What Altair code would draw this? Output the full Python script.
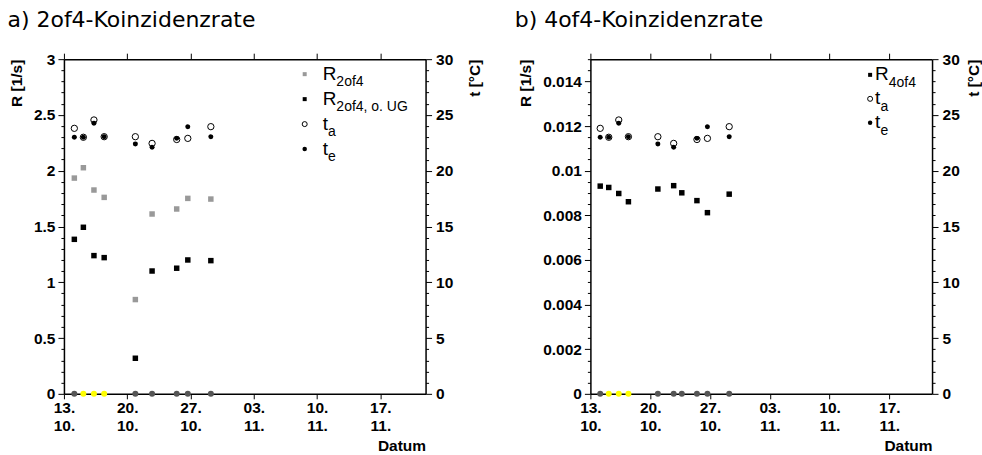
import altair as alt
import pandas as pd

# ---------------------------------------------------------------------------
# Measurement runs (UTC time stamps)
# ---------------------------------------------------------------------------
times_4of4 = [
    "2008-10-14T03:36:00Z", "2008-10-15T03:36:00Z", "2008-10-16T07:40:00Z",
    "2008-10-17T10:50:00Z", "2008-10-20T21:35:00Z", "2008-10-22T18:00:00Z",
    "2008-10-23T16:50:00Z", "2008-10-25T11:20:00Z", "2008-10-26T16:50:00Z",
    "2008-10-29T06:00:00Z",
]
times_2of4 = [
    "2008-10-14T03:36:00Z", "2008-10-15T03:36:00Z", "2008-10-16T07:40:00Z",
    "2008-10-17T10:50:00Z", "2008-10-20T21:35:00Z", "2008-10-22T18:00:00Z",
    "2008-10-25T11:20:00Z", "2008-10-26T16:50:00Z", "2008-10-29T06:00:00Z",
]

# run status marker drawn on the time axis (1 = flagged run)
flag_2of4 = [0, 1, 1, 1, 0, 0, 0, 0, 0]
flag_4of4 = [0, 1, 1, 1, 0, 0, 0, 0, 0, 0]

# coincidence rates [1/s]
rate_2of4 = [1.934, 2.027, 1.827, 1.761, 0.845, 1.612, 1.657, 1.752, 1.746]
rate_2of4_noug = [1.385, 1.493, 1.239, 1.221, 0.319, 1.101, 1.126, 1.200, 1.194]
rate_4of4 = [0.00931, 0.00925, 0.00898, 0.00861, 0.00918,
             0.00933, 0.00901, 0.00866, 0.00812, 0.00895]

# temperatures at start (t_a) and end (t_e) of each run [°C]
temp_a = [23.8, 23.0, 24.55, 23.05, 23.05, 22.45, 22.8, 22.9, 23.95]
temp_e = [23.0, 23.0, 24.25, 23.05, 22.4, 22.1, 22.9, 23.95, 23.05]

# date ticks (day of month, month)
tick_days = [(13, 10), (20, 10), (27, 10), (3, 11), (10, 11), (17, 11)]

# ---------------------------------------------------------------------------
FONT = "Liberation Sans"
TITLE_FONT = "DejaVu Sans"

df_2of4 = pd.DataFrame({"time": times_2of4, "R": rate_2of4, "R_noug": rate_2of4_noug,
                        "flag": flag_2of4, "base": [0] * len(times_2of4)})
df_4of4 = pd.DataFrame({"time": times_4of4, "R": rate_4of4,
                        "flag": flag_4of4, "base": [0] * len(times_4of4)})
df_temp = pd.DataFrame({"time": times_2of4, "ta": temp_a, "te": temp_e})

x_scale = alt.Scale(
    type="utc", nice=False,
    domain=[alt.DateTime(year=2008, month=10, date=13, utc=True),
            alt.DateTime(year=2008, month=11, date=22, utc=True)],
)
tick_dates = [alt.DateTime(year=2008, month=m, date=d, utc=True) for d, m in tick_days]


def x_bottom():
    return alt.X("time:T", scale=x_scale, axis=alt.Axis(
        orient="bottom", values=tick_dates, tickSize=5, labelPadding=2,
        labelFlush=False, labelAngle=0, labelLineHeight=18,
        labelExpr="[utcFormat(datum.value, '%d.'), utcFormat(datum.value, '%m.')]",
        title="Datum", titleAnchor="end", titlePadding=4,
    ))


def x_top():
    return alt.X("time:T", scale=x_scale, axis=alt.Axis(
        orient="top", values=tick_dates, tickSize=6, labels=False, title=None,
    ))


def minor_major(step):
    return f"abs(datum.value / {step} - round(datum.value / {step})) < 0.001"


def rate_axis(ticks, major, fmt, pad):
    test = minor_major(major)
    return alt.Axis(
        orient="left", values=ticks, format=fmt,
        labelExpr=f"{test} ? datum.label : ''",
        tickSize={"condition": {"test": test, "value": 6}, "value": 3},
        labelPadding=3, title="R [1/s]", titleAnchor="end", titlePadding=pad,
    )


def temp_axis(pad):
    test = minor_major(5)
    return alt.Axis(
        orient="right", values=list(range(31)),
        labelExpr=f"{test} ? datum.label : ''",
        tickSize={"condition": {"test": test, "value": 6}, "value": 3},
        labelPadding=4, title="t [°C]", titleAnchor="end", titleAngle=270,
        titleBaseline="top", titlePadding=pad,
    )


temp_scale = alt.Scale(domain=[0, 30], nice=False)

SYMBOLS = {
    "gray_sq": dict(shape="square", filled=True, color="#999999", size=16),
    "black_sq": dict(shape="square", filled=True, color="black", size=16),
    "open": dict(shape="circle", filled=False, stroke="black", strokeWidth=1, size=25),
    "dot": dict(shape="circle", filled=True, color="black", size=20),
}


def legend_rows(entries, x_sym, x_txt, y0, dy):
    layers = []
    for i, (kind, main, sub, sub_dx) in enumerate(entries):
        y_sym = y0 + i * dy
        one = alt.Chart(pd.DataFrame({"main": [main], "sub": [sub]}))
        layers.append(one.mark_point(opacity=1, **SYMBOLS[kind]).encode(
            x=alt.value(x_sym), y=alt.value(y_sym)))
        layers.append(one.mark_text(align="left", baseline="alphabetic", font=FONT,
                                    fontSize=19, color="black").encode(
            x=alt.value(x_txt), y=alt.value(y_sym + 5.5), text="main:N"))
        layers.append(one.mark_text(align="left", baseline="alphabetic", font=FONT,
                                    fontSize=14, color="black").encode(
            x=alt.value(x_txt + sub_dx), y=alt.value(y_sym + 12), text="sub:N"))
    return layers


def temp_group(pad):
    base = alt.Chart(df_temp)
    y_ta = alt.Y("ta:Q", scale=temp_scale, axis=temp_axis(pad))
    y_te = alt.Y("te:Q", scale=temp_scale, axis=temp_axis(pad))
    open_c = base.mark_point(shape="circle", filled=False, stroke="black",
                             strokeWidth=1, size=40, opacity=1).encode(x=x_top(), y=y_ta)
    fill_c = base.mark_point(shape="circle", filled=True, color="black",
                             size=25, opacity=1).encode(x=x_top(), y=y_te)
    return alt.layer(open_c, fill_c)


flag_color = alt.Color("flag:N", scale=alt.Scale(domain=[0, 1], range=["#555555", "#ffff00"]),
                       legend=None)


def panel_title(text, dx):
    return alt.TitleParams(text, anchor="start", font=TITLE_FONT, fontSize=22,
                           fontWeight="normal", color="black", dx=dx, offset=20)


# ---------------------------------------------------------------------------
# a) 2of4 coincidence rate
# ---------------------------------------------------------------------------
ticks_a = [round(i * 0.1, 1) for i in range(31)]
scale_a = alt.Scale(domain=[0, 3], nice=False)
ax_a = rate_axis(ticks_a, 0.5, ".1~f", 9)
base_a = alt.Chart(df_2of4)
rates_a = alt.layer(
    base_a.mark_point(shape="square", filled=True, color="#999999", size=30, opacity=1)
    .encode(x=x_bottom(), y=alt.Y("R:Q", scale=scale_a, axis=ax_a)),
    base_a.mark_point(shape="square", filled=True, color="black", size=30, opacity=1)
    .encode(x=x_bottom(), y=alt.Y("R_noug:Q", scale=scale_a, axis=ax_a)),
    base_a.mark_point(shape="circle", filled=True, size=36, opacity=1)
    .encode(x=x_bottom(), y=alt.Y("base:Q", scale=scale_a, axis=ax_a), color=flag_color),
)
legend_a = legend_rows(
    [("gray_sq", "R", "2of4", 13.7), ("black_sq", "R", "2of4, o. UG", 13.7),
     ("open", "t", "a", 5.3), ("dot", "t", "e", 5.3)],
    x_sym=241, x_txt=259, y0=15, dy=25,
)
panel_a = alt.layer(rates_a, temp_group(15), *legend_a).resolve_scale(
    y="independent").resolve_axis(x="independent").properties(
    width=362, height=335, title=panel_title("a) 2of4-Koinzidenzrate", -2),
)

# ---------------------------------------------------------------------------
# b) 4of4 coincidence rate
# ---------------------------------------------------------------------------
ticks_b = [round(i * 0.0005, 4) for i in range(31)]
scale_b = alt.Scale(domain=[0, 0.015], nice=False)
ax_b = rate_axis(ticks_b, 0.002, ".3~f", 9)
base_b = alt.Chart(df_4of4)
rates_b = alt.layer(
    base_b.mark_point(shape="square", filled=True, color="black", size=30, opacity=1)
    .encode(x=x_bottom(), y=alt.Y("R:Q", scale=scale_b, axis=ax_b)),
    base_b.mark_point(shape="circle", filled=True, size=36, opacity=1)
    .encode(x=x_bottom(), y=alt.Y("base:Q", scale=scale_b, axis=ax_b), color=flag_color),
)
legend_b = legend_rows(
    [("black_sq", "R", "4of4", 13.7), ("open", "t", "a", 5.3), ("dot", "t", "e", 5.3)],
    x_sym=280, x_txt=285, y0=15.7, dy=24,
)
panel_b = alt.layer(rates_b, temp_group(7), *legend_b).resolve_scale(
    y="independent").resolve_axis(x="independent").properties(
    width=342, height=335, title=panel_title("b) 4of4-Koinzidenzrate", -4),
)

chart = alt.hconcat(panel_a, panel_b, spacing=165, bounds="flush").properties(
    padding={"left": 7, "top": 9, "right": 0, "bottom": 0},
    background="white",
).configure_view(stroke=None).configure_axis(
    grid=False, domainColor="black", domainWidth=1.5, tickColor="black", tickWidth=1,
    labelFont=FONT, labelFontWeight="bold", labelFontSize=15.5, labelColor="black",
    titleFont=FONT, titleFontWeight="bold", titleFontSize=15.5, titleColor="black",
)

chart.save("out.html", embed_options={"renderer": "svg", "actions": False})
